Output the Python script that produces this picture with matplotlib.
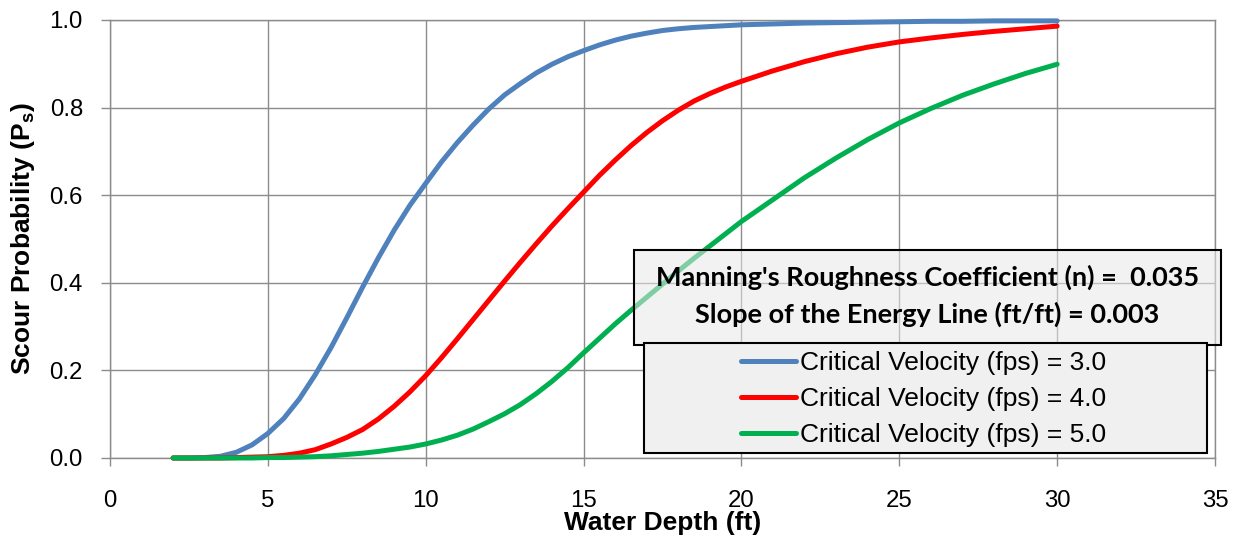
import numpy as np
import matplotlib
matplotlib.use("Agg")
import matplotlib.pyplot as plt
from matplotlib.patches import Rectangle
from matplotlib.ticker import FormatStrFormatter

# water depth (ft) and scour probability
depth = [2, 2.5, 3, 3.5, 4, 4.5, 5, 5.5, 6, 6.5, 7, 7.5, 8, 8.5, 9, 9.5,
         10, 10.5, 11, 11.5, 12, 12.5, 13, 13.5, 14, 14.5, 15, 15.5, 16, 16.5,
         17, 17.5, 18, 18.5, 19, 19.5, 20, 21, 22, 23, 24, 25, 26, 27, 28, 29, 30]
ps_v3 = [0.000, 0.000, 0.001, 0.004, 0.013, 0.030, 0.056, 0.090, 0.135, 0.190,
         0.252, 0.320, 0.390, 0.457, 0.520, 0.577, 0.627, 0.676, 0.720, 0.760,
         0.797, 0.829, 0.855, 0.879, 0.899, 0.916, 0.930, 0.943, 0.954, 0.963,
         0.970, 0.976, 0.980, 0.983, 0.985, 0.987, 0.989, 0.991, 0.993, 0.994,
         0.995, 0.996, 0.997, 0.997, 0.998, 0.998, 0.998]
ps_v4 = [0.000, 0.000, 0.000, 0.000, 0.001, 0.002, 0.003, 0.006, 0.011, 0.019,
         0.032, 0.047, 0.065, 0.089, 0.118, 0.151, 0.188, 0.229, 0.272, 0.316,
         0.360, 0.404, 0.447, 0.489, 0.530, 0.569, 0.607, 0.645, 0.680, 0.713,
         0.743, 0.770, 0.794, 0.815, 0.832, 0.847, 0.860, 0.884, 0.905, 0.923,
         0.938, 0.950, 0.959, 0.967, 0.974, 0.980, 0.986]
ps_v5 = [0.000, 0.000, 0.000, 0.000, 0.000, 0.000, 0.001, 0.001, 0.002, 0.003,
         0.005, 0.008, 0.011, 0.015, 0.020, 0.025, 0.032, 0.041, 0.052, 0.066,
         0.083, 0.101, 0.122, 0.147, 0.175, 0.206, 0.240, 0.273, 0.306, 0.337,
         0.367, 0.397, 0.427, 0.456, 0.484, 0.512, 0.540, 0.590, 0.640, 0.685,
         0.727, 0.765, 0.798, 0.828, 0.854, 0.878, 0.899]

series = [ps_v3, ps_v4, ps_v5]
labels = ["Critical Velocity (fps) = 3.0",
          "Critical Velocity (fps) = 4.0",
          "Critical Velocity (fps) = 5.0"]
colors = ["#4f81bd", "#ff0000", "#00b050"]
note = ["Manning's Roughness Coefficient (n) =  0.035",
        "Slope of the Energy Line (ft/ft) = 0.003"]

plt.rcParams["font.family"] = "Liberation Sans"
plt.rcParams["mathtext.fontset"] = "custom"
plt.rcParams["mathtext.rm"] = "Liberation Sans"
plt.rcParams["mathtext.bf"] = "Liberation Sans:bold"

W, H = 1239, 536
fig = plt.figure(figsize=(W / 100, H / 100), dpi=100)
ax = fig.add_axes([110 / W, 1 - 458 / H, 1105 / W, 438 / H])

for y, c, lab in zip(series, colors, labels):
    ax.plot(depth, y, color=c, lw=3.6, label=lab, zorder=3, clip_on=False,
            solid_capstyle="round", solid_joinstyle="round")

ax.set_xlim(0, 35)
ax.set_ylim(0, 1)
ax.set_xticks(range(0, 36, 5))
ax.set_yticks(np.arange(0, 1.01, 0.2))
ax.yaxis.set_major_formatter(FormatStrFormatter("%.1f"))
ax.grid(color="#8c8c8c", lw=1.0)
ax.set_axisbelow(True)
for s in ax.spines.values():
    s.set_color("#8c8c8c")
    s.set_linewidth(1.0)
ax.tick_params(axis="x", length=6, width=1, color="#8c8c8c", pad=17, labelsize=17.3)
ax.tick_params(axis="y", length=6.5, width=1, color="#8c8c8c", pad=13, labelsize=17.3)

ax.set_xlabel("Water Depth (ft)", fontsize=19, fontweight="bold")
ax.xaxis.set_label_coords(0.5, -0.121)
ax.set_ylabel(r"Scour Probability (P$_\mathbf{s}$)", fontsize=19, fontweight="bold")
ax.yaxis.set_label_coords(-0.0665, 0.5)

# semi-transparent parameter box
ax.add_patch(Rectangle((0.4742, 0.258), 0.5312, 0.2169, transform=ax.transAxes,
                       facecolor=(0.91, 0.91, 0.91, 0.55), edgecolor="black",
                       lw=1.5, zorder=4, clip_on=False))
for txt, yy in zip(note, [0.4132, 0.3288]):
    ax.text(0.7398, yy, txt, transform=ax.transAxes, ha="center", va="center",
            fontsize=19.5, fontweight="bold", family="Lato", zorder=6)

# legend box
ax.add_patch(Rectangle((0.4833, 0.0114), 0.5095, 0.2512, transform=ax.transAxes,
                       facecolor="#f0f0f0", edgecolor="black", lw=1.5, zorder=5))
leg = ax.legend(loc="center", bbox_to_anchor=(0.7362, 0.134), frameon=False,
                fontsize=19, handlelength=2.1, handletextpad=0.15,
                labelspacing=0.46, borderpad=0, borderaxespad=0)
leg.set_zorder(7)

fig.savefig("out.png", dpi=100)
